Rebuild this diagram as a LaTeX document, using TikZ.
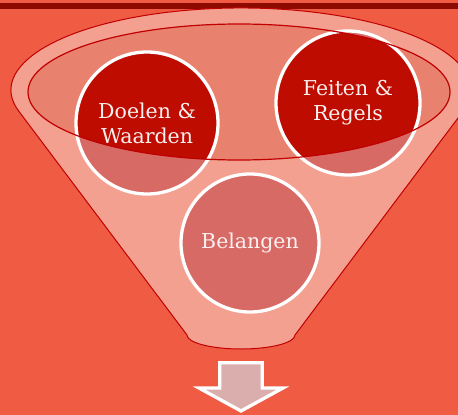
\documentclass[tikz,border=0pt]{standalone}
\usepackage{fontspec}
\setmainfont{DejaVu Serif}
\definecolor{bgred}{HTML}{F05B43}
\definecolor{band}{HTML}{8C0A00}
\definecolor{funnel}{HTML}{F4A091}
\definecolor{glass}{HTML}{E8826F}
\definecolor{edge}{HTML}{C00000}
\definecolor{ballin}{HTML}{BE0D00}
\definecolor{ballout}{HTML}{D86A66}
\definecolor{arrowfill}{HTML}{DBAEAE}
\definecolor{textwhite}{HTML}{FAF0F0}
\begin{document}
\begin{tikzpicture}[x=1pt,y=-1pt,
  bubble/.style={circle, draw=white, line width=3.3pt, inner sep=0pt,
    align=center, text=textwhite, font=\fontsize{20.5}{25}\selectfont},
  outline/.style={draw=edge, line width=1pt},
  glassedge/.style={draw=edge, line width=1.2pt},
  arrowshape/.style={draw=white, line width=3.3pt, fill=arrowfill, line join=miter}]
\useasboundingbox (0,0) rectangle (458,415);
\fill[bgred] (0,0) rectangle (458,415);
\fill[band] (0,3) rectangle (458,8.5);
% funnel body
\filldraw[fill=funnel, outline] (187,335) -- (18.8,111.2)
  arc[start angle=165, end angle=375, x radius=230, y radius=82]
  -- (295,335) arc[start angle=0, end angle=180, x radius=54, y radius=14] -- cycle;
% glass top
\coordinate (gc) at (239,92);
\fill[glass] (gc) ellipse[x radius=211, y radius=68];
% circle centres
\coordinate (cD) at (147,123);
\coordinate (cF) at (348,103);
\coordinate (cB) at (250,243);
\fill[ballout] (cD) circle[radius=71];
\fill[ballout] (cF) circle[radius=72];
\fill[ballout] (cB) circle[radius=69];
\begin{scope}
  \clip (gc) ellipse[x radius=211, y radius=68];
  \fill[ballin] (cD) circle[radius=71];
  \fill[ballin] (cF) circle[radius=72];
\end{scope}
\node[bubble, minimum size=142pt] (doelen) at (cD) {Doelen \&\\Waarden};
\node[bubble, minimum size=144pt] (feiten) at (cF) {Feiten \&\\Regels};
\node[bubble, minimum size=138pt] (belangen) at (cB) {Belangen};
\draw[glassedge] (gc) ellipse[x radius=211, y radius=68];
% arrow
\draw[arrowshape] (219.7,362.7) -- (262.3,362.7) -- (262.3,388) -- (283,388)
  -- (241,411) -- (199,388) -- (219.7,388) -- cycle;
\end{tikzpicture}
\end{document}
